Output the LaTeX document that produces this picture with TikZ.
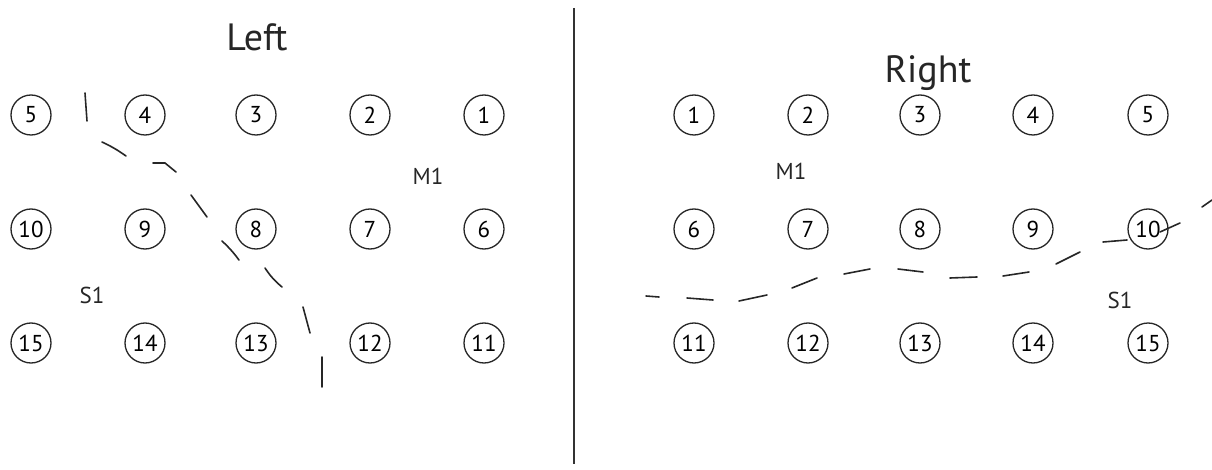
\documentclass[tikz,border=0pt]{standalone}
\usepackage{fontspec}
\setmainfont{PT Sans}
\begin{document}
\begin{tikzpicture}[x=1pt,y=-1pt,
  seat/.style={draw=black!85,circle,line width=1.3pt,minimum size=40pt,inner sep=0pt,font=\fontsize{23}{23}\selectfont},
  lbl/.style={font=\fontsize{23}{23}\selectfont,text=black!85},
  ttl/.style={font=\fontsize{38}{38}\selectfont,text=black!85},
  cut/.style={draw=black!85,line width=1.6pt,line cap=round}]
\useasboundingbox (0,0) rectangle (1212,470);
% titles
\node[ttl,anchor=base] (tl) at (257,51) {Left};
\node[ttl,anchor=base] (tr) at (928,83) {Right};
% divider
\coordinate (dtop) at (574,8);
\coordinate (dbot) at (574,464);
\draw[draw=black!80,line width=1.6pt] (dtop) -- (dbot);
% left seats
\foreach \n/\x/\y in {5/31/115,4/145/115,3/256/115,2/370/115,1/484/115,
                      10/31/229,9/145/229,8/256/229,7/370/229,6/484/229,
                      15/31/343,14/145/343,13/256/343,12/370/343,11/484/343}
  \node[seat] (l\n) at (\x,\y) {\n};
% right seats
\foreach \n/\x/\y in {1/694/115,2/808/115,3/920/115,4/1033/115,5/1148/115,
                      6/694/229,7/808/229,8/920/229,9/1033/229,10/1148/229,
                      11/694/343,12/808/343,13/920/343,14/1033/343,15/1148/343}
  \node[seat] (r\n) at (\x,\y) {\n};
% labels
\node[lbl] (lm1) at (428,176) {M1};
\node[lbl] (ls1) at (92,295) {S1};
\node[lbl] (rm1) at (791,171) {M1};
\node[lbl] (rs1) at (1120,300) {S1};
% left dashed cut
\draw[cut] (85,93) -- (87,121)
  (102,142) to[bend left=5] (126,156)
  (153,163) -- (165,163) -- (176,172)
  (191,195) -- (207,217)
  (222,241) to[bend left=5] (239,260)
  (265,268) to[bend right=8] (282,287)
  (303,307) -- (310,333)
  (322,357) -- (322,387);
% right dashed cut
\draw[cut] (646,296) -- (659,297)
  (687,298) -- (713,300)
  (739,301) -- (767,295)
  (792,288) -- (817,278)
  (844,274) -- (870,269)
  (898,269) -- (923,272)
  (950,278) -- (977,277)
  (1003,276) -- (1029,272)
  (1056,264) -- (1080,252)
  (1103,242) -- (1127,240)
  (1160,232) -- (1180,223)
  (1202,207) -- (1212,200);
\end{tikzpicture}
\end{document}
